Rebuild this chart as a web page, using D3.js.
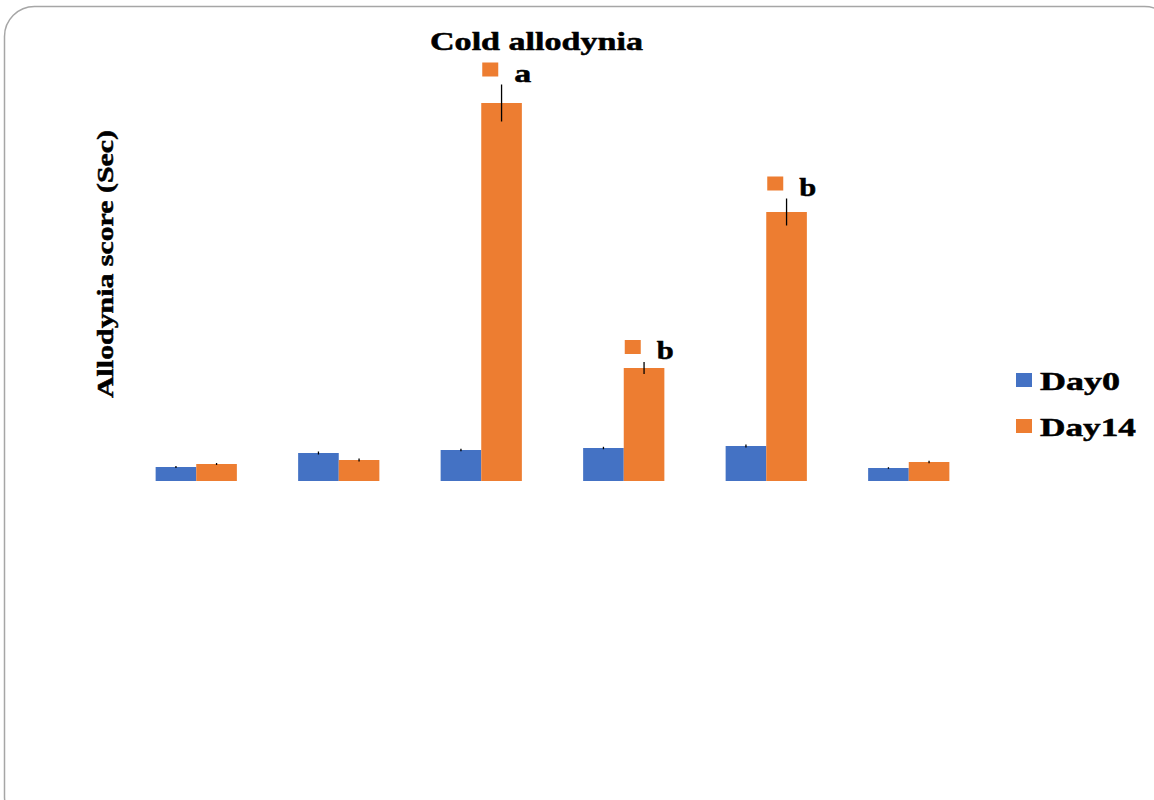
<!DOCTYPE html>
<html><head><meta charset="utf-8">
<script src="https://cdn.jsdelivr.net/npm/d3@7"></script>
<style>body{margin:0;background:#fff;}svg{display:block;}</style>
</head><body>
<svg id="c" width="1154" height="800"></svg>
<script>
const groups = ["G1","G2","G3","G4","G5","G6"];
const seriesNames = ["Day0","Day14"];
const day0 = [1.4, 2.8, 3.1, 3.3, 3.5, 1.3];
const day14 = [1.7, 2.1, 37.8, 11.3, 26.9, 1.9];
const day0Err = [0.1, 0.15, 0.12, 0.12, 0.15, 0.08];
const day14Err = [0.1, 0.15, 1.85, 0.6, 1.35, 0.12];
const letters = ["", "", "a", "b", "b", ""];
const colors = ["#4472C4", "#ED7D31"];

const FONT = "Liberation Serif, Times New Roman, serif";
const svg = d3.select("#c");
// frame
svg.append("rect").attr("x",4.5).attr("y",6.5).attr("width",1170).attr("height",820)
  .attr("rx",30).attr("fill","#fff").attr("stroke","#a6a6a6").attr("stroke-width",1.5);

const x0 = d3.scaleBand().domain(groups).range([125, 980]).paddingInner(0.43).paddingOuter(0.215);
const x1 = d3.scaleBand().domain(seriesNames).range([0, x0.bandwidth()]);
const y = d3.scaleLinear().domain([0, 40]).range([481, 81]);

const data = groups.map((g,i)=>({g, vals:[
  {s:"Day0", v:day0[i], e:day0Err[i], c:colors[0]},
  {s:"Day14", v:day14[i], e:day14Err[i], c:colors[1]}], letter:letters[i]}));

const gg = svg.append("g").selectAll("g").data(data).join("g")
  .attr("transform", d=>`translate(${x0(d.g)},0)`);
gg.selectAll("rect").data(d=>d.vals).join("rect")
  .attr("x", d=>x1(d.s)).attr("width", x1.bandwidth())
  .attr("y", d=>y(d.v)).attr("height", d=>y(0)-y(d.v)).attr("fill", d=>d.c);
gg.selectAll("line.err").data(d=>d.vals).join("line").attr("class","err")
  .attr("x1", d=>x1(d.s)+x1.bandwidth()/2).attr("x2", d=>x1(d.s)+x1.bandwidth()/2)
  .attr("y1", d=>y(d.v+d.e)).attr("y2", d=>y(d.v-d.e))
  .attr("stroke","#000").attr("stroke-width",1.3);

function styleText(t, size){
  return t.attr("font-family",FONT).attr("font-weight","bold").attr("font-size",size)
    .attr("fill","#000").attr("stroke","#000").attr("stroke-width",0.5)
    .attr("lengthAdjust","spacingAndGlyphs");
}

// letter annotations
const ann = gg.filter(d=>d.letter!=="");
ann.append("rect")
  .attr("x", x1("Day14")+1).attr("width",16)
  .attr("y", d=>y(d.vals[1].v+d.vals[1].e)-22).attr("height",14)
  .attr("fill", colors[1]);
styleText(ann.append("text"), 26)
  .attr("x", x1("Day14")+33).attr("y", d=>y(d.vals[1].v+d.vals[1].e)-3)
  .attr("textLength",17).text(d=>d.letter);

// title
styleText(svg.append("text"), 25).attr("x",430).attr("y",50)
  .attr("textLength",213).text("Cold allodynia");
// y label
styleText(svg.append("text"), 24).attr("transform","translate(113,398) rotate(-90)")
  .attr("x",0).attr("y",0).attr("textLength",268).text("Allodynia score (Sec)");

// legend
const lg = svg.append("g").selectAll("g").data(seriesNames).join("g")
  .attr("transform",(d,i)=>`translate(1016,${373+i*46})`);
lg.append("rect").attr("width",16).attr("height",14).attr("fill",(d,i)=>colors[i]);
styleText(lg.append("text"), 25).attr("x",24).attr("y",17)
  .attr("textLength",(d,i)=>[80,96][i]).text(d=>d);
</script>
</body></html>
